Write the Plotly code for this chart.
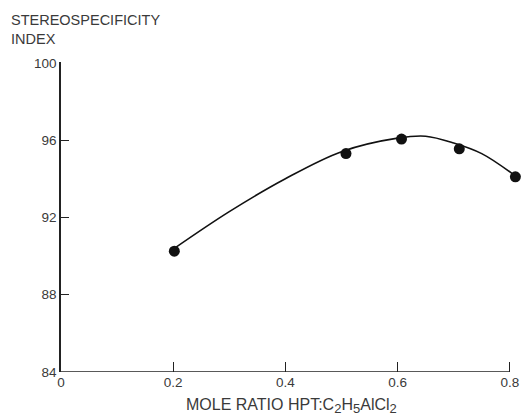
import plotly.graph_objects as go

point_x = [0.202, 0.508, 0.607, 0.71, 0.81]
point_y = [90.25, 95.3, 96.05, 95.55, 94.1]

# Smooth fitted curve
curve_x = [0.202, 0.3, 0.4, 0.5, 0.6, 0.65, 0.7, 0.75, 0.805]
curve_y = [90.4, 92.3, 94.0, 95.4, 96.1, 96.2, 95.85, 95.3, 94.25]

x_ticks = [0, 0.2, 0.4, 0.6, 0.8]
x_tick_labels = ["0", "0.2", "0.4", "0.6", "0.8"]
y_ticks = [84, 88, 92, 96, 100]
y_tick_labels = ["84", "88", "92", "96", "100"]

y_title = "STEREOSPECIFICITY<br>INDEX"
SUB = "<sub><span style='font-size:13px'>{}</span></sub>"
x_title = ("MOLE RATIO HPT:C" + SUB.format("2") + "H" + SUB.format("5")
           + "AlCl" + SUB.format("2"))

FONT = "Liberation Sans"
TXT = "#3a3a3a"
AX = "#222222"

fig = go.Figure()
fig.add_trace(go.Scatter(
    x=curve_x, y=curve_y, mode="lines",
    line=dict(color="#111111", width=1.6, shape="spline", smoothing=1.0),
    hoverinfo="skip", showlegend=False, cliponaxis=False,
))
fig.add_trace(go.Scatter(
    x=point_x, y=point_y, mode="markers",
    marker=dict(color="#111111", size=11),
    showlegend=False, cliponaxis=False,
))

# bottom axis line, ending at the last tick
fig.add_shape(type="line", xref="x", yref="y",
              x0=x_ticks[0], x1=x_ticks[-1], y0=y_ticks[0], y1=y_ticks[0],
              line=dict(color=AX, width=1.5), layer="above")

fig.update_layout(
    width=529, height=419,
    margin=dict(l=61, r=8, t=62, b=47),
    paper_bgcolor="white", plot_bgcolor="white",
    font=dict(family=FONT, size=13, color=TXT),
    xaxis=dict(
        range=[0, 0.82], tickvals=x_ticks, ticktext=x_tick_labels,
        showline=False,
        ticks="inside", ticklen=10, tickcolor=AX, tickwidth=1.3,
        showgrid=False, zeroline=False,
        tickfont=dict(family=FONT, size=13.5, color=TXT),
    ),
    yaxis=dict(
        range=[84, 100.04], tickvals=y_ticks, ticktext=y_tick_labels,
        showline=True, linecolor=AX, linewidth=1.5,
        ticks="inside", ticklen=8, tickcolor=AX, tickwidth=1.3,
        showgrid=False, zeroline=False,
        tickfont=dict(family=FONT, size=13.5, color=TXT),
    ),
    annotations=[
        dict(text=y_title, xref="paper", yref="paper",
             x=-0.113, y=1.168, xanchor="left", yanchor="top",
             showarrow=False, align="left",
             font=dict(family=FONT, size=14.5, color=TXT)),
        dict(text=x_title, xref="paper", yref="paper",
             x=0.502, y=-0.072, xanchor="center", yanchor="top",
             showarrow=False,
             font=dict(family=FONT, size=16, color=TXT)),
    ],
)

fig.write_html("out.html")
